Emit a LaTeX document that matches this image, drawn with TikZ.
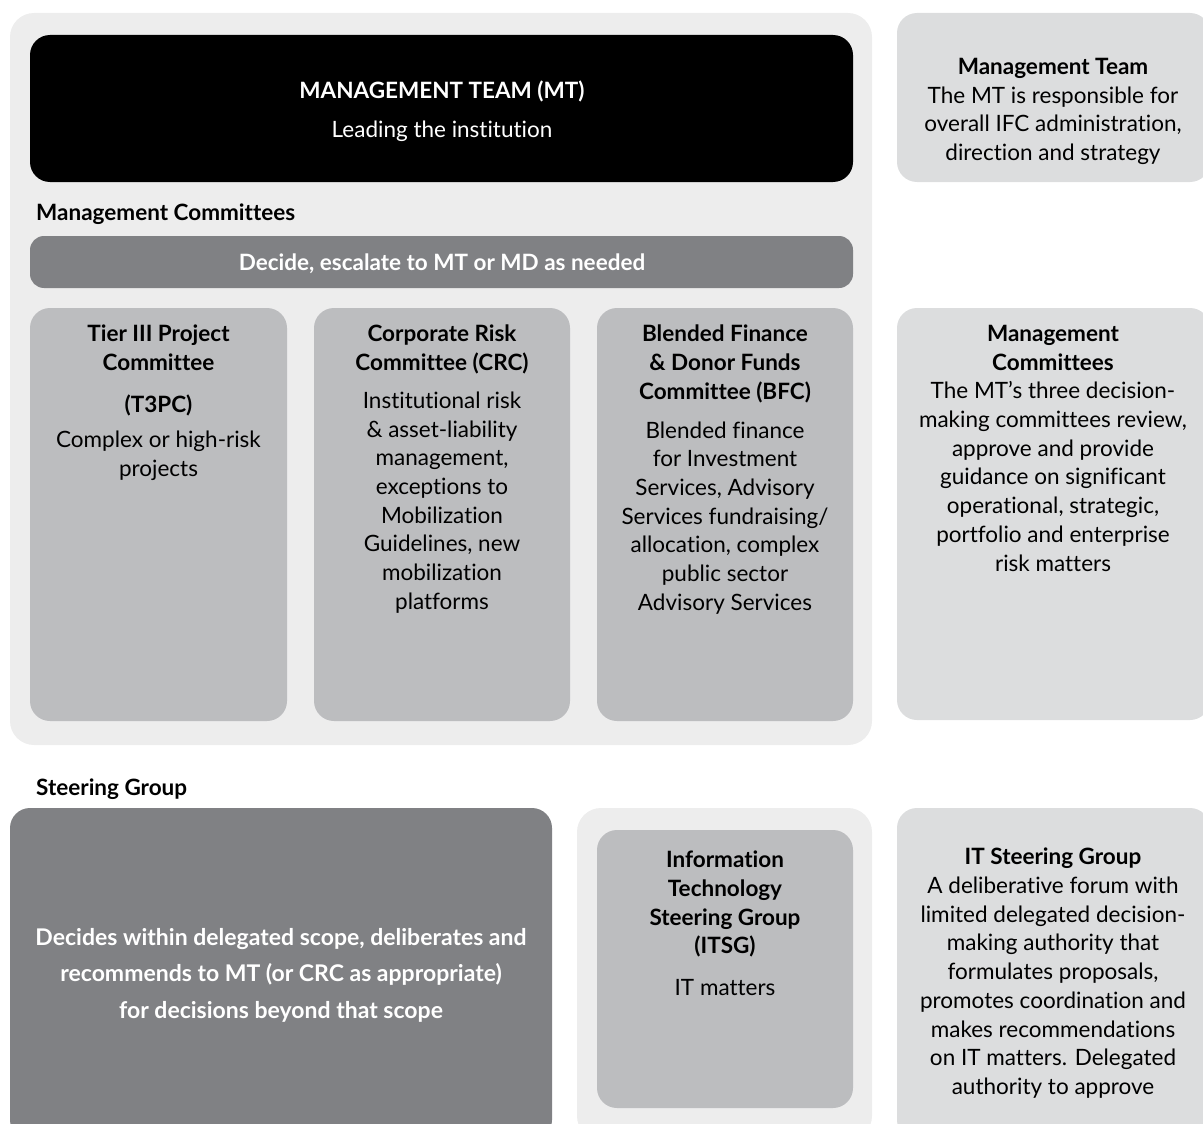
\documentclass[tikz,border=0pt]{standalone}
\usepackage{fontspec}
\setmainfont{Lato}[Ligatures=NoCommon]
\usetikzlibrary{positioning}
\definecolor{panelgray}{HTML}{EDEDED}
\definecolor{bargray}{HTML}{808184}
\definecolor{colgray}{HTML}{BCBDBF}
\definecolor{notegray}{HTML}{DCDDDE}

\begin{document}
\begin{tikzpicture}[x=1pt,y=-1pt,
  panel/.style={fill=panelgray,rounded corners=24pt},
  colbox/.style={fill=colgray,rounded corners=20pt},
  notebox/.style={fill=notegray,rounded corners=20pt},
  barbox/.style={fill=bargray,rounded corners=14pt},
  txt/.style={anchor=north,align=center,inner sep=0pt,font=\fontsize{22.5}{28.7}\selectfont},
  hdr/.style={anchor=base west,inner sep=0pt,font=\fontsize{22.5}{28}\selectfont\bfseries}]
  \useasboundingbox (0,0) rectangle (1203,1124);

  % top panel
  \fill[panel] (10,13) rectangle (872,745);
  \fill[black,rounded corners=20pt] (30,35) rectangle (853,182);
  \node[txt,text=white] (mt) at (442,81) {\textbf{MANAGEMENT TEAM (MT)}\\[10pt]Leading the institution};
  \node[hdr] (mclabel) at (36,220) {Management Committees};
  \fill[barbox] (30,236) rectangle (853,288);
  \node[txt,anchor=base,text=white] (decide) at (442,270) {\textbf{Decide, escalate to MT or MD as needed}};

  % committees
  \fill[colbox] (30,308) rectangle (287,721);
  \fill[colbox] (314,308) rectangle (570,721);
  \fill[colbox] (597,308) rectangle (853,721);
  \node[txt] (t3pc) at (158.5,325) {\textbf{Tier III Project}\\\textbf{Committee}\\[13pt]\textbf{(T3PC)}\\[7pt]Complex or high-risk\\projects};
  \node[txt] (crc) at (442,325) {\textbf{Corporate Risk}\\\textbf{Committee (CRC)}\\[9pt]Institutional risk\\\& asset-liability\\management,\\exceptions to\\Mobilization\\Guidelines, new\\mobilization\\platforms};
  \node[txt] (bfc) at (725,325) {\textbf{Blended Finance}\\\textbf{\& Donor Funds}\\\textbf{Committee (BFC)}\\[10pt]Blended finance\\for Investment\\Services, Advisory\\Services fundraising/\\allocation, complex\\public sector\\Advisory Services};

  % notes on the right
  \fill[notebox] (897,13) rectangle (1210,182);
  \fill[notebox] (897,308) rectangle (1210,720);
  \fill[notebox] (897,808) rectangle (1210,1140);
  \node[txt] (mtnote) at (1053,58) {\textbf{Management Team}\\The MT is responsible for\\overall IFC administration,\\direction and strategy};
  \node[txt] (mcnote) at (1053,325) {\textbf{Management}\\\textbf{Committees}\\The MT’s three decision-\\making committees review,\\approve and provide\\guidance on significant\\operational, strategic,\\portfolio and enterprise\\risk matters};
  \node[txt] (itnote) at (1053,848) {\textbf{IT Steering Group}\\A deliberative forum with\\limited delegated decision-\\making authority that\\formulates proposals,\\promotes coordination and\\makes recommendations\\on IT matters. Delegated\\authority to approve};

  % steering group
  \node[hdr] (sglabel) at (36,795) {Steering Group};
  \fill[bargray,rounded corners=20pt] (10,808) rectangle (552,1140);
  \node[txt,text=white,font=\fontsize{23}{36.5}\selectfont\bfseries] (sg) at (281,928) {Decides within delegated scope, deliberates and\\recommends to MT (or CRC as appropriate)\\for decisions beyond that scope};
  \fill[panel] (577,808) rectangle (872,1140);
  \fill[colbox] (597,830) rectangle (853,1108);
  \node[txt] (itsg) at (725,851) {\textbf{Information}\\\textbf{Technology}\\\textbf{Steering Group}\\\textbf{(ITSG)}\\[13pt]IT matters};
\end{tikzpicture}
\end{document}
